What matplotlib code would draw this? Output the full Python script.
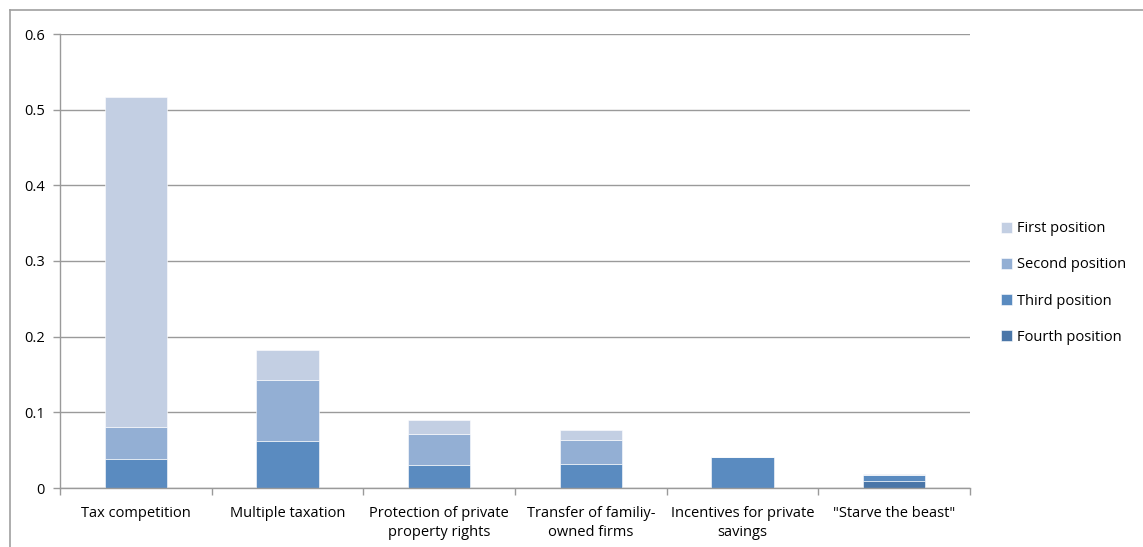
import matplotlib
matplotlib.use('Agg')
import matplotlib.pyplot as plt
from matplotlib.lines import Line2D
import numpy as np

categories = ['Tax competition', 'Multiple taxation',
              'Protection of private\nproperty rights',
              'Transfer of familiy-\nowned firms',
              'Incentives for private\nsavings', '"Starve the beast"']

# stacked from the bottom: fourth, third, second, first
fourth = [0.0, 0.0, 0.0, 0.0, 0.0, 0.0096]
third = [0.038, 0.062, 0.030, 0.032, 0.041, 0.0076]
second = [0.043, 0.081, 0.041, 0.032, 0.0, 0.0]
first = [0.436, 0.039, 0.019, 0.013, 0.0, 0.0013]

series = [('Fourth position', fourth, '#4a76a8'),
          ('Third position', third, '#5a8bc0'),
          ('Second position', second, '#93afd4'),
          ('First position', first, '#c3cfe3')]

plt.rcParams['font.family'] = ['Open Sans', 'DejaVu Sans']

fig = plt.figure(figsize=(11.43, 5.47), dpi=100)
ax = fig.add_axes([60 / 1143, 1 - 488 / 547, 910 / 1143, 454 / 547])

x = np.arange(len(categories))
bottom = np.zeros(len(categories))
handles = {}
for label, vals, color in series:
    vals = np.array(vals)
    b = ax.bar(x, vals, width=0.41, bottom=bottom, color=color,
               edgecolor='white', linewidth=0.4, zorder=2)
    handles[label] = b
    bottom += vals

ax.set_xlim(-0.5, 5.5)
ax.set_ylim(0, 0.6)
ax.set_yticks(np.arange(0, 0.61, 0.1))
ax.set_yticklabels(['0', '0.1', '0.2', '0.3', '0.4', '0.5', '0.6'])
ax.yaxis.grid(True, color='#9a9a9a', lw=1.0, zorder=0)
ax.set_axisbelow(True)

ax.set_xticks(x)
ax.set_xticklabels(categories, fontsize=10.5, linespacing=1.35)
ax.set_xticks(np.arange(-0.5, 6, 1), minor=True)
ax.tick_params(axis='x', which='major', length=0, pad=13)
ax.tick_params(axis='x', which='minor', length=5, color='#9a9a9a', width=1)
ax.tick_params(axis='y', length=5, color='#9a9a9a', width=1,
               labelsize=10.5, pad=6)

for s in ('top', 'right'):
    ax.spines[s].set_visible(False)
for s in ('left', 'bottom'):
    ax.spines[s].set_color('#9a9a9a')
    ax.spines[s].set_linewidth(1.0)

order = ['First position', 'Second position', 'Third position', 'Fourth position']
leg = fig.legend([handles[k] for k in order], order,
                 loc='center left', bbox_to_anchor=(988 / 1143, 1 - 283 / 547),
                 frameon=False, fontsize=10.5, handlelength=0.75,
                 handleheight=0.75, handletextpad=0.35, labelspacing=1.45)

# outer chart frame (top and left edges visible)
fig.add_artist(Line2D([10 / 1143, 1], [1 - 10 / 547, 1 - 10 / 547],
                      color='#a0a0a0', lw=1.2, transform=fig.transFigure))
fig.add_artist(Line2D([10 / 1143, 10 / 1143], [0, 1 - 10 / 547],
                      color='#a0a0a0', lw=1.2, transform=fig.transFigure))

fig.savefig('out.png', dpi=100)
